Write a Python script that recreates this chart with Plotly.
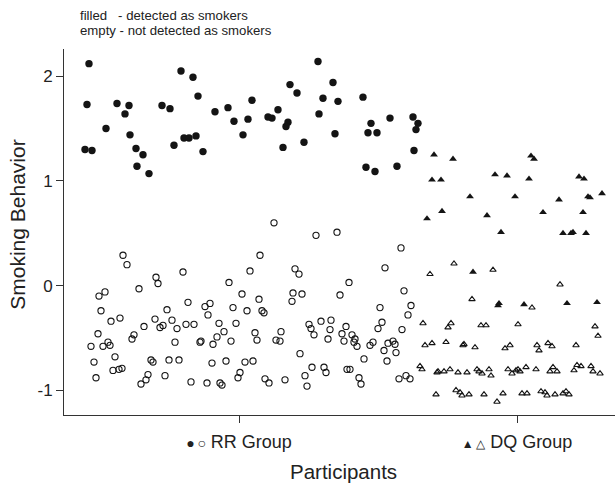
import plotly.graph_objects as go

# ---------------- data ----------------
# x: participant position along the axis, y: smoking behavior score
rr_detected_x = [25, 23, 21, 28, 42, 53, 65, 61, 66, 72, 79, 73, 85, 98, 106, 110, 117, 129, 134,
                 120, 125, 132, 139, 151, 164, 170, 179, 184, 188, 254, 226, 233, 269, 259, 274,
                 299, 214, 204, 208, 224, 222, 255, 271, 219, 240, 307, 304, 313, 326, 349, 354,
                 352, 350, 302, 311, 333]
rr_detected_y = [2.12, 1.73, 1.30, 1.29, 1.50, 1.74, 1.72, 1.64, 1.44, 1.31, 1.25, 1.14, 1.07, 1.72,
                 1.69, 1.34, 2.05, 1.99, 1.81, 1.41, 1.41, 1.43, 1.28, 1.66, 1.70, 1.57, 1.44, 1.59,
                 1.77, 2.14, 1.92, 1.84, 1.94, 1.79, 1.76, 1.80, 1.68, 1.61, 1.60, 1.56, 1.52, 1.64,
                 1.45, 1.32, 1.37, 1.55, 1.46, 1.46, 1.60, 1.61, 1.55, 1.49, 1.29, 1.13, 1.09, 1.14]

rr_not_x = [59, 63, 35, 41, 75, 92, 94, 119, 37, 47, 56, 34, 27, 39, 44, 46, 30, 51, 49, 55, 58, 32,
            68, 70, 80, 91, 96, 99, 103, 108, 113, 111, 124, 122, 130, 87, 89, 105, 115, 84, 82, 77,
            101, 127, 143, 156, 158, 141, 146, 144, 155, 153, 160, 136, 137, 149, 167, 148, 162,
            165, 178, 186, 196, 169, 183, 172, 195, 198, 200, 191, 193, 181, 189, 176, 174,
            252, 273, 337, 231, 235, 321, 285, 340, 229, 238, 228, 276, 347, 316, 344, 318, 314,
            338, 245, 247, 250, 257, 267, 266, 264, 282, 278, 280, 288, 291, 290, 293, 306, 309,
            324, 329, 331, 320, 332, 212, 216, 217, 236, 300, 323, 248, 260, 262, 283, 286, 201,
            205, 221, 241, 243, 295, 297, 335, 342, 346, 210]
rr_not_y = [0.29, 0.20, -0.10, -0.06, -0.03, 0.08, 0.02, 0.13, -0.24, -0.34, -0.31, -0.46, -0.58,
            -0.58, -0.54, -0.57, -0.73, -0.68, -0.81, -0.80, -0.79, -0.88, -0.51, -0.47, -0.39,
            -0.32, -0.40, -0.38, -0.23, -0.33, -0.41, -0.54, -0.16, -0.37, -0.37, -0.71, -0.73,
            -0.71, -0.71, -0.85, -0.90, -0.94, -0.86, -0.92, -0.93, -0.93, -0.95, -0.20, -0.17,
            -0.28, -0.36, -0.49, -0.44, -0.54, -0.53, -0.56, -0.53, -0.74, -0.72,
            0.03, -0.08, 0.14, 0.29, -0.21, -0.24, -0.36, -0.13, -0.24, -0.26, -0.45, -0.52,
            -0.73, -0.72, -0.83, -0.88,
            0.48, 0.51, 0.36, 0.16, 0.11, 0.17, 0.03, -0.05, -0.07, -0.08, -0.15, -0.09, -0.19,
            -0.21, -0.28, -0.35, -0.41, -0.42, -0.37, -0.41, -0.47, -0.34, -0.33, -0.42, -0.51,
            -0.39, -0.46, -0.53, -0.47, -0.51, -0.54, -0.58, -0.57, -0.54, -0.55, -0.53, -0.56,
            -0.62, -0.64, -0.52, -0.53, -0.44, -0.65, -0.70, -0.72, -0.78, -0.78, -0.83, -0.80,
            -0.80, -0.89, -0.93, -0.90, -0.86, -0.96, -0.88, -0.94, -0.89, -0.86, -0.89, 0.60]

dq_detected_x = [370, 368, 377, 389, 431, 443, 465, 467, 470, 406, 451, 495, 515, 520, 524, 526,
                 538, 378, 363, 423, 479, 519, 437, 499, 507, 509, 522, 409, 435, 434, 460, 503, 533]
dq_detected_y = [1.25, 1.01, 1.01, 1.21, 1.06, 1.05, 1.02, 1.24, 1.21, 0.85, 0.85, 0.82, 1.04, 1.02,
                 0.85, 0.84, 0.88, 0.71, 0.64, 0.67, 0.70, 0.70, 0.51, 0.50, 0.50, 0.51, 0.50,
                 0.13, -0.17, -0.19, -0.18, -0.17, -0.16]

dq_not_x = [366, 390, 429, 496, 408, 468, 387, 384, 417, 422, 454, 531, 534, 368, 382, 400, 399,
            411, 446, 441, 473, 475, 484, 488, 512, 374, 373, 380, 386, 394, 403, 413, 415, 418,
            425, 427, 444, 448, 452, 454, 456, 462, 472, 486, 489, 493, 510, 513, 517, 527, 529,
            536, 372, 392, 396, 398, 405, 420, 433, 439, 458, 463, 477, 481, 483, 491, 499, 502,
            505, 359, 361, 356, 358]
dq_not_y = [0.11, 0.21, 0.15, 0.01, -0.13, -0.21, -0.36, -0.40, -0.38, -0.38, -0.37, -0.39, -0.48,
            -0.55, -0.54, -0.56, -0.57, -0.59, -0.57, -0.60, -0.57, -0.62, -0.55, -0.58, -0.57,
            -0.82, -0.83, -0.82, -0.80, -0.83, -0.83, -0.80, -0.82, -0.84, -0.80, -0.86, -0.80,
            -0.84, -0.81, -0.80, -0.82, -0.78, -0.80, -0.82, -0.78, -0.82, -0.81, -0.76, -0.77,
            -0.77, -0.82, -0.84, -1.04, -1.00, -1.02, -1.05, -1.04, -1.04, -1.11, -1.03, -1.03,
            -1.03, -1.01, -1.02, -1.05, -1.04, -1.03, -1.01, -1.04, -0.36, -0.57, -0.77, -0.80]

group_tick_pos = [175, 453]
group_tick_text = ['<span style="font-size:14px">●\u2009○</span> RR Group',
                   '<span style="font-size:12px">▲\u2009△</span> DQ Group']
y_tick_vals = [-1, 0, 1, 2]
y_tick_text = ['-1', '0', '1', '2']

INK = '#141414'
FONT = 'Liberation Sans, Arial, Helvetica, sans-serif'

fig = go.Figure()
fig.add_trace(go.Scatter(x=rr_not_x, y=rr_not_y, mode='markers',
                         marker=dict(symbol='circle-open', size=6.2, color=INK,
                                     line=dict(width=1.1, color=INK))))
fig.add_trace(go.Scatter(x=dq_not_x, y=dq_not_y, mode='markers',
                         marker=dict(symbol='triangle-up-open', size=5.6, color=INK,
                                     line=dict(width=1.1, color=INK))))
fig.add_trace(go.Scatter(x=rr_detected_x, y=rr_detected_y, mode='markers',
                         marker=dict(symbol='circle', size=7.4, color=INK, line=dict(width=0))))
fig.add_trace(go.Scatter(x=dq_detected_x, y=dq_detected_y, mode='markers',
                         marker=dict(symbol='triangle-up', size=6.8, color=INK, line=dict(width=0))))

fig.update_layout(
    width=615, height=483,
    margin=dict(l=64, r=0, t=49, b=68),
    plot_bgcolor='white', paper_bgcolor='white',
    showlegend=False,
    font=dict(family=FONT, color='#222222'),
    xaxis=dict(range=[0, 551], showline=True, linecolor='#333333', linewidth=1,
               ticks='outside', ticklen=7, tickcolor='#333333', tickwidth=1,
               tickvals=group_tick_pos, ticktext=group_tick_text,
               tickfont=dict(size=18, family=FONT, color='#222222'),
               showgrid=False, zeroline=False, ticklabelstandoff=3),
    yaxis=dict(range=[-1.236, 2.26], showline=True, linecolor='#333333', linewidth=1,
               ticks='outside', ticklen=7, tickcolor='#333333', tickwidth=1,
               tickvals=y_tick_vals, ticktext=y_tick_text,
               tickfont=dict(size=17, family=FONT, color='#222222'),
               showgrid=False, zeroline=False),
    annotations=[
        dict(text='Participants', xref='paper', yref='paper', x=0.508, y=-0.155,
             xanchor='center', yanchor='middle', showarrow=False,
             font=dict(size=20.5, family=FONT, color='#222222')),
        dict(text='Smoking Behavior', xref='paper', yref='paper', x=-0.0858, y=0.519,
             xanchor='center', yanchor='middle', showarrow=False, textangle=-90,
             font=dict(size=21, family=FONT, color='#222222')),
        dict(text='filled\u00a0\u00a0\u00a0- detected as smokers', xref='paper', yref='paper',
             x=(79 - 64) / 551, y=(415 - 15.5) / 366, xanchor='left', yanchor='middle',
             showarrow=False, borderpad=0,
             font=dict(size=13.2, family=FONT, color='#222222')),
        dict(text='empty - not detected as smokers', xref='paper', yref='paper',
             x=(79 - 64) / 551, y=(415 - 30.5) / 366, xanchor='left', yanchor='middle',
             showarrow=False, borderpad=0,
             font=dict(size=13.2, family=FONT, color='#222222')),
    ],
)

fig.write_html('out.html')
